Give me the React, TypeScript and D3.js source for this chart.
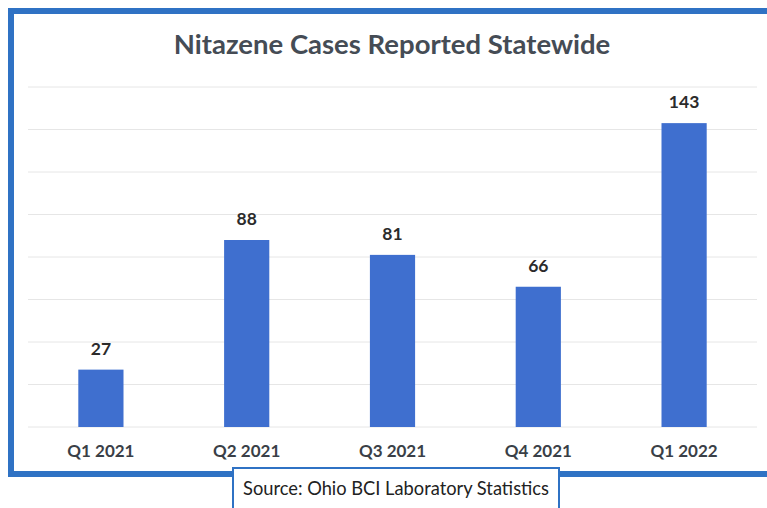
import React from "react";
import { scaleBand, scaleLinear, range } from "d3";

// Nitazene cases bar chart

const quarters = ["Q1 2021", "Q2 2021", "Q3 2021", "Q4 2021", "Q1 2022"];
const cases = [27, 88, 81, 66, 143];
const gridValues = range(0, 161, 20);

const W = 767, H = 508;
const plot = { left: 28, right: 757, top: 87, bottom: 427 };
const barColor = "#3f6fcf";
const frameColor = "#2f72c4";
const font = "Lato, 'Open Sans', sans-serif";

export default function App() {
  const x = scaleBand<string>()
    .domain(quarters)
    .range([plot.left, plot.right])
    .paddingInner(0.69)
    .paddingOuter(0.345);

  const y = scaleLinear().domain([0, 160]).range([plot.bottom, plot.top]);

  return (
    <svg width={W} height={H} style={{ position: "absolute", left: 0, top: 0, background: "#fff" }}>
      {/* outer frame */}
      <rect x={11} y={11} width={W + 20} height={463} fill="#fff" stroke={frameColor} strokeWidth={6} />

      <text x={392} y={54} textAnchor="middle" fontFamily={font} fontWeight={700} fontSize={27.5} fill="#454c55">
        Nitazene Cases Reported Statewide
      </text>

      {gridValues.map((v) => (
        <line key={v} x1={plot.left} x2={plot.right} y1={y(v)} y2={y(v)} stroke="#e6e6e6" strokeWidth={1} />
      ))}

      {quarters.map((q, i) => {
        const bx = x(q)!;
        const cx = bx + x.bandwidth() / 2;
        return (
          <g key={q}>
            <rect x={bx} y={y(cases[i])} width={x.bandwidth()} height={y(0) - y(cases[i])} fill={barColor} />
            <text x={cx} y={y(cases[i]) - 15} textAnchor="middle" fontFamily={font} fontWeight={700} fontSize={17.5} fill="#2b2b2b">
              {cases[i]}
            </text>
            <text x={cx} y={457} textAnchor="middle" fontFamily={font} fontWeight={700} fontSize={17} fill="#3a3f47">
              {q}
            </text>
          </g>
        );
      })}

      {/* source box */}
      <rect x={233} y={468} width={326} height={60} fill="#fff" stroke={frameColor} strokeWidth={2} />
      <text x={396} y={495} textAnchor="middle" fontFamily={font} fontSize={18.3} fill="#222">
        Source: Ohio BCI Laboratory Statistics
      </text>
    </svg>
  );
}
